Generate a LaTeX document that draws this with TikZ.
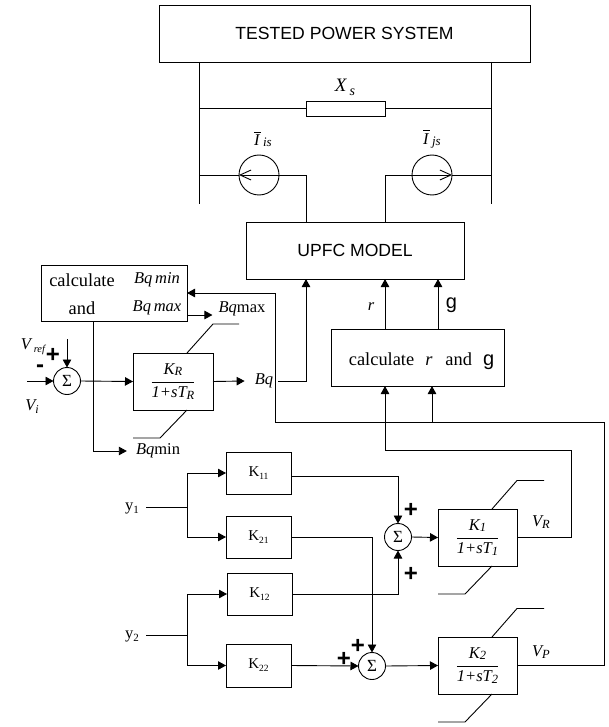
\documentclass[tikz,border=0pt]{standalone}
\usepackage{fontspec}
\setmainfont{Liberation Serif}
\setsansfont{Liberation Sans}
\usepackage{tikz}
\usetikzlibrary{arrows.meta,calc}
\newcommand{\lowsub}[1]{\raisebox{-1.5pt}{\fontsize{12.5}{14}\selectfont #1}}
\newcommand{\blockfrac}[2]{$\displaystyle\frac{\hbox{\itshape #1}}{\hbox{\itshape #2}}$}
\newcommand{\gainname}[1]{K\raisebox{-3pt}{\fontsize{9.5}{11}\selectfont #1}}
\newcommand{\barcurrent}[1]{\rlap{\rule[13pt]{7pt}{0.8pt}}\textit{I}\,\raisebox{-1pt}{\itshape\fontsize{13}{15}\selectfont #1}}
\tikzset{
  base/.style={font=\fontsize{16.5}{19}\selectfont, align=center, inner sep=0pt, text=black},
  box/.style={base, rectangle, draw=black, fill=white, line width=0.9pt, outer sep=0pt},
  title/.style={box, font=\sffamily\fontsize{17.6}{20}\selectfont},
  gainbox/.style={box, minimum width=65pt, minimum height=42pt, font=\fontsize{15}{17}\selectfont},
  lagbox/.style={box, minimum width=80pt, minimum height=57pt},
  sumj/.style={base, circle, draw=black, fill=white, line width=0.9pt, minimum size=27pt, outer sep=0pt, font=\fontsize{17}{19}\selectfont},
  srcj/.style={circle, draw=black, line width=0.9pt, minimum size=40pt, inner sep=0pt, outer sep=0pt},
  lbl/.style={base},
  wordlbl/.style={base, font=\fontsize{18.4}{21}\selectfont},
  sgn/.style={base, font=\sffamily\bfseries\fontsize{24}{26}\selectfont},
  wire/.style={line width=0.9pt, draw=black},
  arr/.style={wire, -{Triangle[length=8pt,width=8.5pt]}},
  arro/.style={wire, -{Straight Barb[length=11pt,width=10pt]}},
}
\begin{document}
\begin{tikzpicture}[x=1pt,y=-1pt]
  \useasboundingbox (0,0) rectangle (608,727);
  % power system
  \node[title,minimum width=371pt,minimum height=57pt] (sys) at (344.5,33.5) {TESTED POWER SYSTEM};
  \node[box,minimum width=79pt,minimum height=15pt] (xs) at (345.5,108.5) {};
  \node[lbl] (xslbl) at (345,87) {\itshape\fontsize{19}{21}\selectfont X\,\raisebox{-4pt}{\fontsize{14}{16}\selectfont s}};
  \node[srcj] (isrc) at (259,175) {};
  \node[srcj] (jsrc) at (432,175) {};
  \node[lbl] (ilbl) at (263,139) {\barcurrent{is}};
  \node[lbl] (jlbl) at (432,139) {\barcurrent{js}};
  \coordinate (bl1) at (199,62);
  \coordinate (bl2) at (199,204);
  \coordinate (br1) at (491,62);
  \coordinate (br2) at (491,204);
  \draw[wire] (bl1) -- (bl2);
  \draw[wire] (br1) -- (br2);
  \draw[wire] (xs.west) -- (xs.west -| bl1);
  \draw[wire] (xs.east) -- (xs.east -| br1);
  % upfc and calculation boxes
  \node[title,minimum width=218pt,minimum height=57pt] (upfc) at (355,250.5) {UPFC MODEL};
  \node[box,minimum width=173pt,minimum height=57pt] (calc) at (417.5,357.5) {};
  \node[wordlbl] (calct) at (421.5,361) {calculate\hspace{0.6em}\textit{r}\hspace{0.7em}and\hspace{0.6em}{\sffamily\fontsize{20}{22}\selectfont g}};
  \node[box,minimum width=146pt,minimum height=56pt] (lim) at (114,293) {};
  \node[wordlbl] (limc) at (82,280) {calculate};
  \node[wordlbl] (lima) at (82,308) {and};
  \node[lbl] (limn) at (157,280) {\itshape Bq\,min};
  \node[lbl] (limx) at (157,308) {\itshape Bq\,max};
  \coordinate (ui) at (306,222);
  \coordinate (uj) at (385,222);
  \draw[arro] (ui) |- (isrc.west);
  \draw[wire] (isrc.west) -- (isrc.west -| bl1);
  \draw[arro] (uj) |- (jsrc.east);
  \draw[wire] (jsrc.east) -- (jsrc.east -| br1);
  \coordinate (ur) at (385,329);
  \coordinate (ug) at (438,329);
  \draw[arr] (ur) -- (ur |- upfc.south);
  \draw[arr] (ug) -- (ug |- upfc.south);
  \node[lbl] (rlbl) at (371,307) {\itshape r};
  \node[lbl,font=\sffamily\fontsize{20}{22}\selectfont] (glbl) at (451.5,305) {g};
  % reactive limiter loop
  \node[sumj] (sum0) at (67,381) {Σ};
  \node[lagbox] (kr) at (173,381.5) {\blockfrac{K\lowsub{R}}{1+sT\lowsub{R}}};
  \node[lbl] (bq) at (264,381) {\itshape Bq};
  \node[lbl] (bqx) at (242,309) {\textit{Bq}max};
  \node[lbl] (bqn) at (158,451) {\textit{Bq}min};
  \node[lbl] (vref) at (33,347) {\itshape V\,\raisebox{-3pt}{\fontsize{10.5}{12}\selectfont ref}};
  \node[lbl] (vi) at (32,407) {\itshape V\raisebox{-3pt}{\fontsize{12}{14}\selectfont i}};
  \node[sgn] (pref) at (53,355) {+};
  \node[sgn] (mref) at (40,369) {-};
  \coordinate (vin) at (27,381);
  \coordinate (rin) at (67,339);
  \draw[arr] (vin) -- (sum0.west);
  \draw[arr] (rin) -- (sum0.north);
  \draw[arr] (sum0.east) -- (kr.west);
  \draw[arr] (kr.east) -- ([xshift=-10pt]bq.west);
  \draw[wire] (kr.north east) ++(-26,0) coordinate (kt) -- ++(26,-29) -- ++(26,0);
  \draw[wire] (kr.south east) ++(-26,0) coordinate (kb) -- ++(-27,28) -- ++(-27,0);
  \coordinate (lo) at (187,315);
  \draw[arr] (lo) -- ([xshift=-6pt]bqx.west |- lo);
  \coordinate (ld) at (93,321);
  \draw[arr] (ld) |- ([xshift=-9pt]bqn.west);
  % bq output
  \coordinate (bqe) at (278,381);
  \coordinate (ub) at (306,279);
  \coordinate (fb) at (275,422);
  \coordinate (lf) at (187,293);
  \draw[arr] (bqe) -| (ub);
  \draw[arr] (fb) |- (lf);
  % gains
  \node[gainbox] (k11) at (258.5,473) {\gainname{11}};
  \node[gainbox] (k21) at (258.5,537) {\gainname{21}};
  \node[gainbox] (k12) at (259.5,594) {\gainname{12}};
  \node[gainbox,minimum height=43pt] (k22) at (258.5,665.5) {\gainname{22}};
  \node[lbl] (y1) at (132,508) {y\raisebox{-3pt}{\fontsize{11}{13}\selectfont 1}};
  \node[lbl] (y2) at (132,636) {y\raisebox{-3pt}{\fontsize{11}{13}\selectfont 2}};
  \coordinate (y1e) at (146,507);
  \coordinate (y1j) at (187,507);
  \coordinate (y2e) at (146,635);
  \coordinate (y2j) at (187,635);
  \draw[wire] (y1e) -- (y1j);
  \draw[wire] (y2e) -- (y2j);
  \draw[arr] (y1j) |- (k11.west);
  \draw[arr] (y1j) |- (k21.west);
  \draw[arr] (y2j) |- (k12.west);
  \draw[arr] (y2j) |- (k22.west);
  % summing junctions and lag blocks
  \node[sumj] (sum1) at (398,537) {Σ};
  \node[sumj] (sum2) at (372,666) {Σ};
  \node[lagbox,minimum width=79pt] (k1) at (477.5,537.5) {\blockfrac{K\lowsub{1}}{1+sT\lowsub{1}}};
  \node[lagbox,minimum width=79pt] (k2) at (477.5,665.5) {\blockfrac{K\lowsub{2}}{1+sT\lowsub{2}}};
  \coordinate (k11o) at (291,476);
  \draw[arr] (k11o) -| (sum1.north);
  \draw[arr] (k21.east) -| (sum2.north);
  \draw[arr] (k12.east) -| (sum1.south);
  \draw[arr] (k22.east) -- (sum2.west);
  \draw[arr] (sum1.east) -- (k1.west);
  \draw[arr] (sum2.east) -- (k2.west);
  \foreach \n/\x/\y in {p1/411/510,p2/411/574,p3/358/646,p4/344/659}{
    \node[sgn] (\n) at (\x,\y) {+};
  }
  \foreach \b in {k1,k2}{
    \draw[wire] (\b.north east) ++(-25,0) -- ++(25,-28.5) -- ++(27,0);
    \draw[wire] (\b.south east) ++(-25,0) -- ++(-27,28) -- ++(-27,0);
  }
  \node[lbl] (vr) at (541,522) {\itshape V\lowsub{R}};
  \node[lbl] (vp) at (541,652) {\itshape V\lowsub{P}};
  % feedback to calculate box
  \coordinate (cr) at (385,386);
  \coordinate (cg) at (432,386);
  \coordinate (rc) at (571,450);
  \coordinate (gc) at (604,422);
  \draw[arr] (k1.east) -| (rc) -| (cr);
  \draw[wire] (k2.east) -| (gc) -- (fb);
  \draw[arr] (cg |- gc) -- (cg);
\end{tikzpicture}
\end{document}
